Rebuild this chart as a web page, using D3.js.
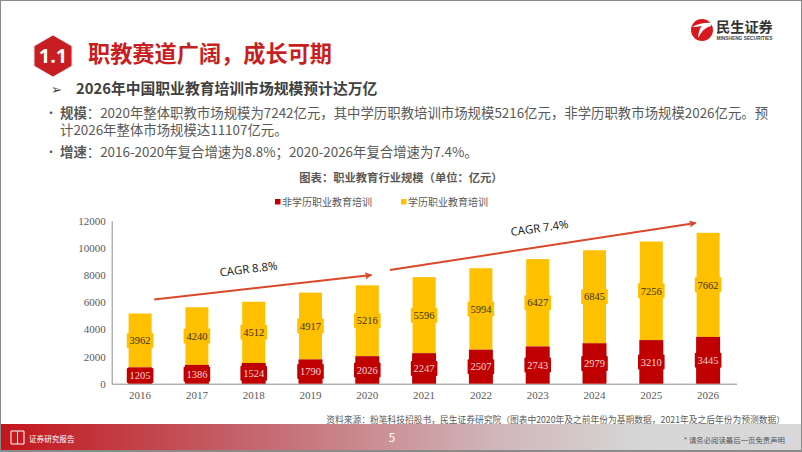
<!DOCTYPE html>
<html lang="zh"><head><meta charset="utf-8">
<style>html,body{margin:0;padding:0;background:#fff}svg{display:block}</style>
<script src="https://cdn.jsdelivr.net/npm/d3@7"></script></head><body><svg id="c" width="802" height="452"></svg>
<script>
const years=["2016","2017","2018","2019","2020","2021","2022","2023","2024","2025","2026"];
const nonDegree=[1205,1386,1524,1790,2026,2247,2507,2743,2979,3210,3445];
const degree=[3962,4240,4512,4917,5216,5596,5994,6427,6845,7256,7662];
const yTicks=[0,2000,4000,6000,8000,10000,12000];
const seriesNames=["非学历职业教育培训","学历职业教育培训"];
const trendAValues=[6200,8000];
const trendBValues=[8370,11830];
const trendLabels=["CAGR 8.8%","CAGR 7.4%"];
const CJK='"Noto Sans CJK SC","Noto Sans",sans-serif';
const SERIF='"Liberation Serif","Noto Sans CJK SC",serif';
const RED='#c00000',YEL='#ffc000',GREY='#7f7f7f';

const svg=d3.select('#c');
const defs=svg.append('defs');
const g1=defs.append('linearGradient').attr('id','foot');
[[0,'#c2161c'],[0.3,'#c4626a'],[0.62,'#d0b6ba'],[0.8,'#d6d6d6'],[1,'#d8d8d8']].forEach(s=>g1.append('stop').attr('offset',s[0]).attr('stop-color',s[1]));
defs.append('marker').attr('id','ah').attr('viewBox','0 0 8 8').attr('refX',7).attr('refY',4)
  .attr('markerWidth',3.6).attr('markerHeight',3.6).attr('orient','auto')
  .append('path').attr('d','M0,0L8,4L0,8L1.5,4Z').attr('fill','#d9482b');

// page frame
svg.append('rect').attr('x',0.5).attr('y',0.5).attr('width',801).attr('height',451).attr('fill','#fff').attr('stroke','#8a8a8a');

function txt(x,y,s,size,fill,opt={}){
  return svg.append('text').attr('x',x).attr('y',y).text(s)
    .attr('font-family',opt.font||CJK).attr('font-size',size).attr('fill',fill)
    .attr('font-weight',opt.weight||400).attr('text-anchor',opt.anchor||'start');
}
// heading badge
svg.append('path').attr('d','M53,35L72,46L72,66L53,77L34,66L34,46Z').attr('fill','#c81e21').attr('stroke','#e6e6e6').attr('stroke-width',1);
txt(53,63,'1.1',20,'#fff',{weight:700,anchor:'middle',font:'"Open Sans",sans-serif'});
txt(88,62,'职教赛道广阔，成长可期',22.2,'#c81e21',{weight:700});

txt(51,94,'➢',13,'#404040',{font:'"DejaVu Sans",sans-serif'});
txt(76,94,'2026年中国职业教育培训市场规模预计达万亿',14.8,'#404040',{weight:700});

const body='#595959';
txt(45,118,'•',12,body);
function lead(x,y,bold,rest){
  const t=txt(x,y,'',13.4,body);
  t.append('tspan').attr('font-weight',700).text(bold);
  t.append('tspan').text(rest);
}
lead(60,118,'规模','：2020年整体职教市场规模为7242亿元，其中学历职教培训市场规模5216亿元，非学历职教市场规模2026亿元。预');
txt(60,135,'计2026年整体市场规模达11107亿元。',13.4,body);
txt(45,157,'•',12,body);
lead(60,157,'增速','：2016-2020年复合增速为8.8%；2020-2026年复合增速为7.4%。');

txt(401,182,'图表：职业教育行业规模（单位：亿元）',11.3,'#595959',{weight:700,anchor:'middle'});

// logo
const lx=691,ly=30;
svg.append('circle').attr('cx',lx+11).attr('cy',ly).attr('r',11).attr('fill','#d7191f');
svg.append('path').attr('d','M'+(lx+1)+','+(ly-3)+'Q'+(lx+11)+','+(ly-8)+' '+(lx+21)+','+(ly-7)+'L'+(lx+20)+','+(ly-4)+'Q'+(lx+13)+','+(ly-3)+' '+(lx+7)+','+(ly+8)+'Q'+(lx+8)+','+(ly-2)+' '+(lx+11)+','+(ly-4)+'Q'+(lx+6)+','+(ly-3)+' '+(lx+1)+','+(ly-3)+'Z').attr('fill','#fff');
txt(716,32,'民生证券',14.2,'#333',{weight:700});
txt(716.5,40,'MINSHENG SECURITIES',4.8,'#444',{weight:700,font:'"Liberation Sans",sans-serif'});

// chart
const x=d3.scaleBand().domain(years).range([111.7,736.5]).paddingInner(0);
const y=d3.scaleLinear().domain([0,12000]).range([383.7,220.7]);
const rows=years.map((yr,i)=>({yr,a:nonDegree[i],b:degree[i]}));

const axG=svg.append('g');
axG.append('g').attr('transform','translate(111.7,0)').call(d3.axisLeft(y).tickValues(yTicks).tickSize(0).tickPadding(6).tickFormat(d3.format('d')))
  .call(g=>{g.select('.domain').attr('stroke','#8c8c8c').attr('stroke-width',1);g.selectAll('text').attr('font-family',SERIF).attr('font-size',11).attr('fill','#595959');});
axG.append('g').attr('transform','translate(0,383.7)').call(d3.axisBottom(x).tickSize(0).tickPadding(5))
  .call(g=>{g.select('.domain').attr('stroke','#8c8c8c').attr('stroke-width',1);g.selectAll('text').attr('font-family',SERIF).attr('font-size',11).attr('fill','#595959').attr('dy','0.9em');});

const cx=d=>x(d.yr)+x.bandwidth()/2;
svg.append('g').selectAll('rect').data(rows).join('rect')
  .attr('x',d=>cx(d)-11.5).attr('width',23).attr('y',d=>y(d.a+d.b)).attr('height',d=>y(d.a)-y(d.a+d.b)).attr('fill',YEL);
svg.append('g').selectAll('rect').data(rows).join('rect')
  .attr('x',d=>cx(d)-12).attr('width',24).attr('y',d=>y(d.a)).attr('height',d=>y(0)-y(d.a)).attr('fill',RED);

function labels(val,mid,bg,fg){
  const g=svg.append('g');
  g.selectAll('rect').data(rows).join('rect')
    .attr('x',d=>cx(d)-13.3).attr('width',26.6).attr('y',d=>y(mid(d))-7.5).attr('height',15).attr('rx',1).attr('fill',bg);
  g.selectAll('text').data(rows).join('text')
    .attr('x',cx).attr('y',d=>y(mid(d))+3.7).attr('text-anchor','middle').text(val)
    .attr('font-family',SERIF).attr('font-size',10.5).attr('fill',fg);
}
labels(d=>d.a,d=>d.a/2,RED,'#f6d5d5');
labels(d=>d.b,d=>d.a+d.b/2,YEL,'#3a2f10');

// legend
const legX=[275,401];
seriesNames.forEach((n,i)=>{
  svg.append('rect').attr('x',legX[i]).attr('y',199).attr('width',5.5).attr('height',5.5).attr('fill',[RED,YEL][i]);
  txt(legX[i]+7,206,n,10,'#595959');
});

// trend arrows
function trend(vals,x0,x1){
  svg.append('line').attr('x1',x0).attr('x2',x1).attr('y1',y(vals[0])).attr('y2',y(vals[1]))
    .attr('stroke','#d9482b').attr('stroke-width',2).attr('marker-end','url(#ah)');
}
trend(trendAValues,x('2016')+42.5,x('2020')+32.5);
trend(trendBValues,x('2021')-5.8,x('2026')+16);
function rotLabel(s,xp,yp,ang){
  svg.append('text').attr('transform',`translate(${xp},${yp}) rotate(${ang})`).text(s)
    .attr('text-anchor','middle').attr('font-family','"Open Sans","Noto Sans",sans-serif').attr('font-size',11.4).attr('fill','#111');
}
rotLabel(trendLabels[0],249,273,-7);
rotLabel(trendLabels[1],540,232,-8);

// source
txt(785,423,'资料来源：粉笔科技招股书，民生证券研究院（图表中2020年及之前年份为基期数据，2021年及之后年份为预测数据）',8.75,'#595959',{anchor:'end'});

// footer
svg.append('rect').attr('x',1).attr('y',424).attr('width',800).attr('height',26).attr('fill','url(#foot)');
svg.append('rect').attr('x',1).attr('y',450).attr('width',800).attr('height',1.5).attr('fill','#8a8a8a');
svg.append('path').attr('d','M11,431H17.5V444H11ZM17.5,431H24V444H17.5Z').attr('fill','none').attr('stroke','#fff').attr('stroke-width',1);
txt(29,442,'证券研究报告',7.6,'#fff');
txt(392,442,'5',11.5,'#fff',{anchor:'middle'});
txt(785,443,'* 请务必阅读最后一页免责声明',7.4,'#555',{anchor:'end'});
</script></body></html>
